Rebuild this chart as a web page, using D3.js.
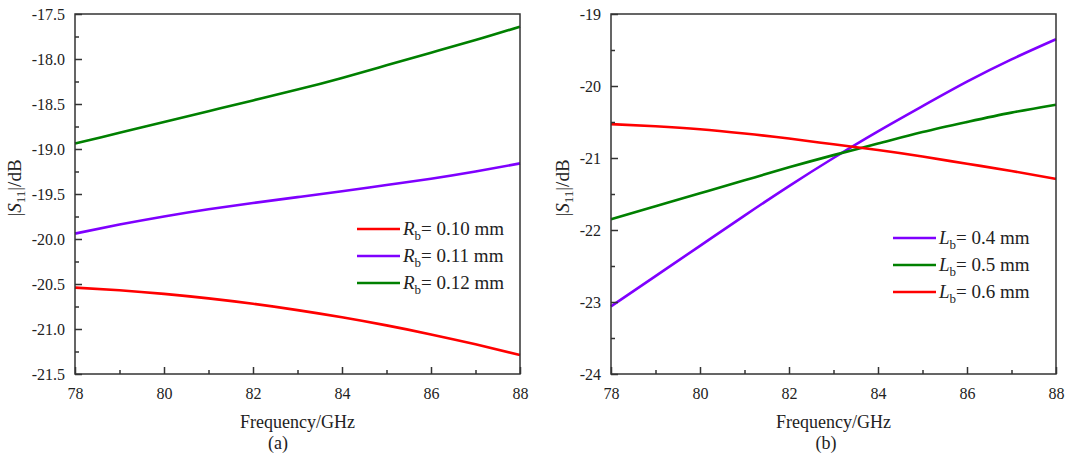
<!DOCTYPE html>
<html><head><meta charset="utf-8">
<script src="https://cdn.jsdelivr.net/npm/d3@7"></script>
<style>
html,body{margin:0;padding:0;background:#fff;}
svg text{font-family:"Liberation Serif","Times New Roman",serif;fill:#222;}
</style></head>
<body><svg id="c" width="1066" height="459"></svg>
<script>
const freq = [78, 79, 80, 81, 82, 83, 84, 85, 86, 87, 88];
// Panel (a): Rb
const rb010 = [-20.54, -20.57, -20.61, -20.66, -20.72, -20.79, -20.87, -20.96, -21.06, -21.17, -21.29];
const rb011 = [-19.94, -19.84, -19.75, -19.67, -19.60, -19.535, -19.47, -19.40, -19.33, -19.25, -19.16];
const rb012 = [-18.94, -18.82, -18.70, -18.58, -18.46, -18.34, -18.21, -18.07, -17.93, -17.79, -17.64];
// Panel (b): Lb
const lb04 = [-23.06, -22.64, -22.22, -21.80, -21.39, -21.00, -20.63, -20.28, -19.94, -19.63, -19.35];
const lb05 = [-21.85, -21.67, -21.49, -21.31, -21.13, -20.96, -20.80, -20.64, -20.50, -20.37, -20.26];
const lb06 = [-20.53, -20.56, -20.60, -20.66, -20.73, -20.81, -20.89, -20.98, -21.08, -21.18, -21.29];

const xTicks = [78, 80, 82, 84, 86, 88];
const yTicksA = [-17.5, -18.0, -18.5, -19.0, -19.5, -20.0, -20.5, -21.0, -21.5];
const yTicksB = [-19, -20, -21, -22, -23, -24];

const seriesA = [
  {pre: "R", val: "= 0.10 mm", color: "#ff0000", data: rb010},
  {pre: "R", val: "= 0.11 mm", color: "#7f00ff", data: rb011},
  {pre: "R", val: "= 0.12 mm", color: "#008000", data: rb012}
];
const seriesB = [
  {pre: "L", val: "= 0.4 mm", color: "#7f00ff", data: lb04},
  {pre: "L", val: "= 0.5 mm", color: "#008000", data: lb05},
  {pre: "L", val: "= 0.6 mm", color: "#ff0000", data: lb06}
];

const svg = d3.select("#c");
const SERIF = "Liberation Serif";

function panel(o) {
  const x = d3.scaleLinear().domain([78, 88]).range([o.left, o.right]);
  const y = d3.scaleLinear().domain(o.ydom).range([374, 14]);
  const g = svg.append("g");

  const line = d3.line().x((d, i) => x(freq[i])).y(d => y(d)).curve(d3.curveNatural);
  o.series.forEach(s => {
    g.append("path").attr("d", line(s.data)).attr("fill", "none")
      .attr("stroke", s.color).attr("stroke-width", 2.6);
  });

  g.append("rect").attr("x", o.left).attr("y", 14).attr("width", o.right - o.left).attr("height", 360)
    .attr("fill", "none").attr("stroke", "#333").attr("stroke-width", 1.5);

  const xa = g.append("g").attr("transform", `translate(0,374)`)
    .call(d3.axisBottom(x).tickValues(xTicks).tickSize(-7).tickPadding(14).tickFormat(d => String(d)))
    .attr("font-family", SERIF);
  xa.select(".domain").remove();
  xa.selectAll("line").attr("stroke", "#333").attr("stroke-width", 1.5);
  xa.selectAll("text").attr("font-size", 16).attr("fill", "#222").attr("font-family", SERIF);
  const xminor = g.append("g").attr("transform", `translate(0,374)`)
    .call(d3.axisBottom(x).tickValues([79, 81, 83, 85, 87]).tickSize(-4).tickFormat(""));
  xminor.select(".domain").remove();
  xminor.selectAll("line").attr("stroke", "#333").attr("stroke-width", 1.5);

  const ya = g.append("g").attr("transform", `translate(${o.left},0)`)
    .call(d3.axisLeft(y).tickValues(o.yticks).tickSize(-7).tickPadding(10).tickFormat(o.yfmt))
    .attr("font-family", SERIF);
  ya.select(".domain").remove();
  ya.selectAll("line").attr("stroke", "#333").attr("stroke-width", 1.5);
  ya.selectAll("text").attr("font-size", 16).attr("fill", "#222").attr("font-family", SERIF);
  const yminor = g.append("g").attr("transform", `translate(${o.left},0)`)
    .call(d3.axisLeft(y).tickValues(o.yminor).tickSize(-4).tickFormat(""));
  yminor.select(".domain").remove();
  yminor.selectAll("line").attr("stroke", "#333").attr("stroke-width", 1.5);

  const yl = g.append("text").attr("transform", `translate(${o.ylabX},188) rotate(-90)`)
    .attr("text-anchor", "middle").attr("font-size", 19);
  yl.append("tspan").text("|");
  yl.append("tspan").attr("font-style", "italic").text("S");
  yl.append("tspan").attr("font-size", 13).attr("dy", 4).text("11");
  yl.append("tspan").attr("dy", -4).text("|/dB");

  g.append("text").attr("x", (o.left + o.right) / 2).attr("y", 428).attr("text-anchor", "middle")
    .attr("font-size", 18).text("Frequency/GHz");
  g.append("text").attr("x", o.capX).attr("y", 449).attr("text-anchor", "middle")
    .attr("font-size", 18).text(o.cap);

  o.series.forEach((s, i) => {
    const ly = o.legY + i * 27;
    g.append("line").attr("x1", o.legX).attr("x2", o.legX + 43).attr("y1", ly).attr("y2", ly)
      .attr("stroke", s.color).attr("stroke-width", 2.6);
    const t = g.append("text").attr("x", o.legX + 46).attr("y", ly + 6).attr("font-size", 19);
    t.append("tspan").attr("font-style", "italic").text(s.pre);
    t.append("tspan").attr("font-size", 13).attr("dy", 5).text("b");
    t.append("tspan").attr("dy", -5).text(s.val);
  });
}

const fmtA = d => "-" + Math.abs(d).toFixed(1);
const fmtB = d => "-" + Math.abs(d).toFixed(0);

panel({left: 75, right: 520, ydom: [-21.5, -17.5], yticks: yTicksA,
  yminor: [-17.75, -18.25, -18.75, -19.25, -19.75, -20.25, -20.75, -21.25],
  yfmt: fmtA, series: seriesA, ylabX: 21, cap: "(a)", capX: 278,
  legX: 357, legY: 229});
panel({left: 611, right: 1056, ydom: [-24, -19], yticks: yTicksB,
  yminor: [-19.5, -20.5, -21.5, -22.5, -23.5],
  yfmt: fmtB, series: seriesB, ylabX: 569, cap: "(b)", capX: 826,
  legX: 893, legY: 238});
</script></body></html>
